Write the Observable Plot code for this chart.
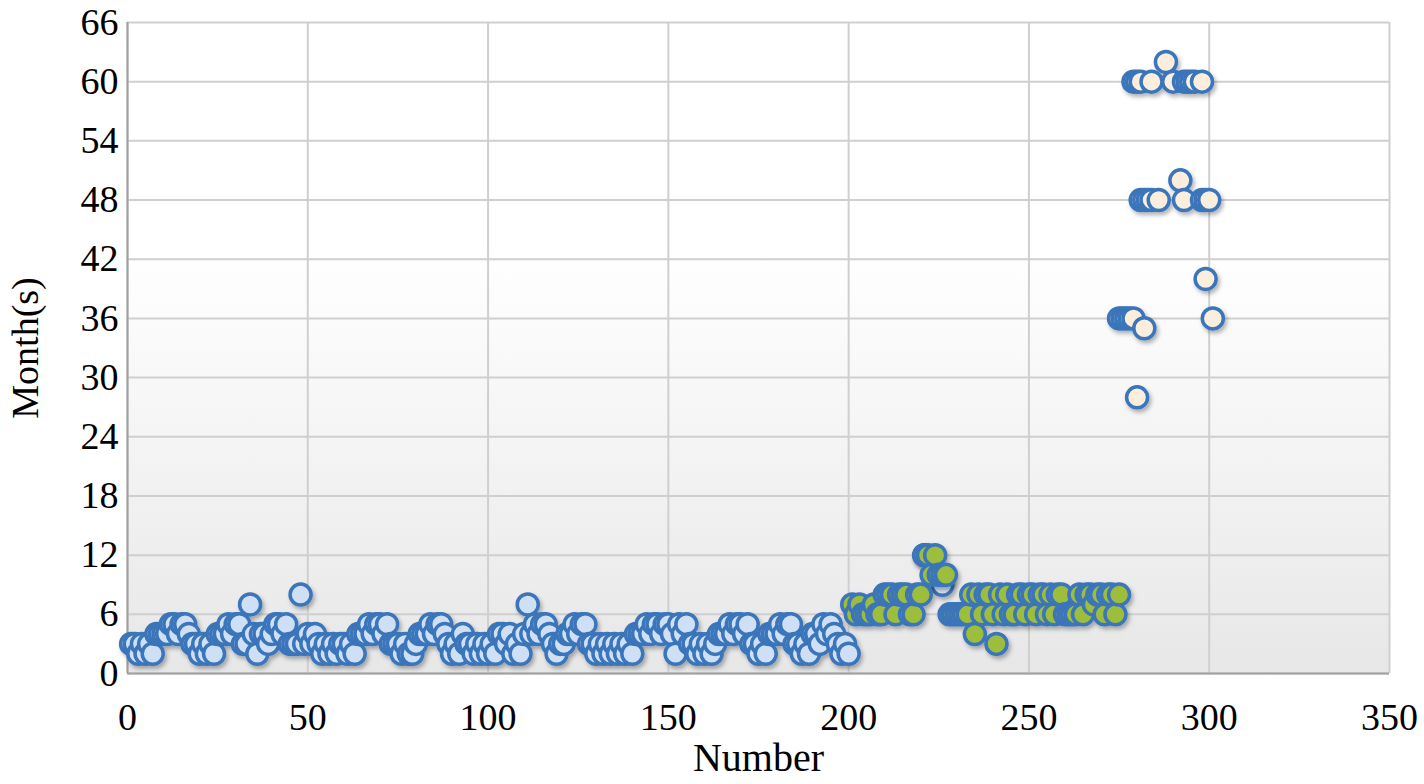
<!DOCTYPE html>
<html><head><meta charset="utf-8">
<script src="https://cdn.jsdelivr.net/npm/d3@7"></script>
<script src="https://cdn.jsdelivr.net/npm/@observablehq/plot@0.6"></script>
<style>body{margin:0;background:#fff}</style>
</head><body><div id="chart"></div>
<script>
// Series 1 (light blue): Number 1..200
const blueY = [
3,3,2,3,2,3,2,4,4,4, 4,5,5,4,5,5,4,3,3,2, 3,2,3,2,4,4,4,5,4,5, 5,3,3,7,4,2,4,4,3,4, 5,5,4,5,3,3,3,8,3,4,
3,4,3,2,3,2,3,2,3,3, 2,3,2,4,4,4,5,4,5,5, 4,5,3,3,3,2,3,2,2,3, 4,4,4,5,4,5,5,4,3,2, 3,2,4,3,3,2,3,2,3,2,
3,2,4,4,3,4,2,3,2,4, 7,4,5,4,5,5,4,3,2,3, 3,4,4,5,4,5,5,3,3,2, 3,2,3,2,3,2,3,2,3,2, 4,4,4,5,4,5,5,4,5,5,
4,2,5,4,5,3,3,2,3,2, 3,2,3,4,4,4,5,4,5,5, 4,5,3,3,2,3,2,4,4,4, 5,4,5,5,3,3,2,3,2,4, 4,3,5,4,5,4,3,2,3,2
];
const blueExtraX = [221, 226];
const blueExtraY = [12, 9];
// Series 2 (green): Number 201..275
const greenY = [
7,6,7,6,6,6,7,6,6,8, 8,8,6,8,8,8,6,6,8,8, 12,12,10,12,10,10,10,6,6,6, 6,6,6,8,4,8,6,8,8,6,
3,8,6,8,6,6,8,8,6,8, 8,6,8,8,6,8,6,8,8,6, 6,6,6,8,6,8,8,7,8,8, 6,8,8,6,8
];
// Series 3 (cream)
const creamX = [275,276,277,278,279,280,282, 279,280,281,284,288,290,293,294,295,296,298, 281,282,283,284,286,292,293,298,299,300, 299,301];
const creamY = [36,36,36,36,36,28,35, 60,60,60,60,62,60,60,60,60,60,60, 48,48,48,48,48,50,48,48,48,48, 40,36];
const xTicks = [0,50,100,150,200,250,300,350];
const yTicks = [0,6,12,18,24,30,36,42,48,54,60,66];

const blue = blueY.map((y, i) => ({x: i + 1, y})).concat(blueExtraX.map((x, i) => ({x, y: blueExtraY[i]})));
const green = greenY.map((y, i) => ({x: i + 201, y}));
const cream = creamX.map((x, i) => ({x, y: creamY[i]}));

const strokeC = "#3a74ba";
const R = 10.5, SW = 3.5;
const plot = Plot.plot({
  width: 1424, height: 784,
  marginLeft: 127, marginRight: 35, marginTop: 22, marginBottom: 111,
  style: {fontFamily: "'Liberation Serif', serif", fontSize: "36px", color: "#000", background: "#fff"},
  x: {domain: [0, 350]},
  y: {domain: [0, 66]},
  marks: [
    Plot.frame({fill: "url(#bg)", stroke: null}),
    Plot.gridX(xTicks, {stroke: "#cfcfcf", strokeOpacity: 1, strokeWidth: 2}),
    Plot.gridY(yTicks, {stroke: "#cfcfcf", strokeOpacity: 1, strokeWidth: 2}),
    Plot.ruleX([0], {stroke: "#a0a0a0", strokeWidth: 2}),
    Plot.ruleY([0], {stroke: "#a0a0a0", strokeWidth: 2}),
    Plot.axisX(xTicks, {label: null, tickSize: 0, tickPadding: 30, fontSize: 38}),
    Plot.axisY(yTicks, {label: null, tickSize: 0, tickPadding: 9, fontSize: 38}),
    Plot.dot(blue, {x: "x", y: "y", r: R, fill: "#cfe0f6", stroke: strokeC, strokeWidth: SW}),
    Plot.dot(green, {x: "x", y: "y", r: R, fill: "#9dbd3c", stroke: strokeC, strokeWidth: SW}),
    Plot.dot(cream, {x: "x", y: "y", r: R, fill: "#fbeedd", stroke: strokeC, strokeWidth: SW}),
    Plot.text(["Number"], {frameAnchor: "bottom", dy: 97, fontSize: 40}),
    Plot.text(["Month(s)"], {frameAnchor: "left", dx: -102, rotate: -90, textAnchor: "middle", fontSize: 38})
  ]
});
const ns = "http://www.w3.org/2000/svg";
const defs = document.createElementNS(ns, "defs");
defs.innerHTML = `<linearGradient id="bg" x1="0" y1="0" x2="0" y2="1">
  <stop offset="0.35" stop-color="#ffffff"/><stop offset="1" stop-color="#e7e7e7"/></linearGradient>
  <filter id="sh" x="-10%" y="-10%" width="130%" height="130%"><feDropShadow dx="2" dy="3" stdDeviation="2" flood-color="#000" flood-opacity="0.3"/></filter>`;
plot.insertBefore(defs, plot.firstChild);
plot.querySelectorAll('g[aria-label="dot"]').forEach(g => g.setAttribute("filter", "url(#sh)"));
document.getElementById("chart").appendChild(plot);
</script>
</body></html>
